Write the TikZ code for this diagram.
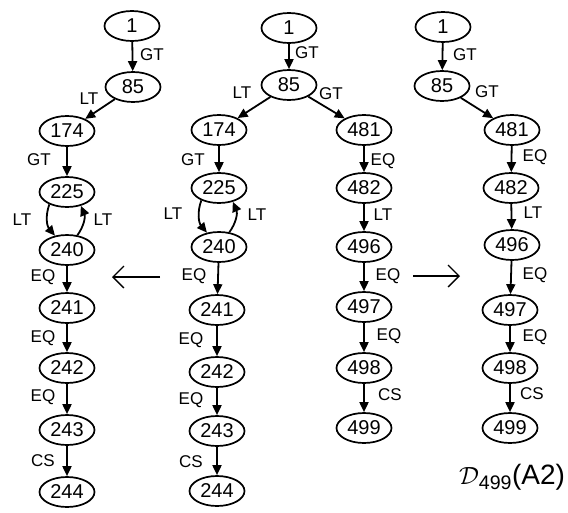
\documentclass[tikz,border=0pt]{standalone}
\usepackage{fontspec}
\setmainfont{Liberation Sans}
\usetikzlibrary{shapes.geometric,arrows.meta}
\begin{document}
\begin{tikzpicture}[x=1pt,y=-1pt,
  st/.style={ellipse,draw,line width=1.7pt,minimum width=55pt,minimum height=30pt,inner sep=0pt,font=\fontsize{20}{20}\selectfont},
  arr/.style={line width=1.8pt,-{Triangle[length=10pt,width=9pt]}},
  lbl/.style={font=\fontsize{17}{17}\selectfont,inner sep=0pt},
  big/.style={line width=1.3pt,-{Straight Barb[length=11pt,width=22pt]}}]
\useasboundingbox (0,0) rectangle (568,512);

% ---------- left tree ----------
\node[st] (L1)   at (132,26)  {1};
\node[st] (L85)  at (133,87)  {85};
\node[st] (L174) at (67,131)  {174};
\node[st] (L225) at (67,192)  {225};
\node[st] (L240) at (67,250)  {240};
\node[st] (L241) at (67,308)  {241};
\node[st] (L242) at (67,368)  {242};
\node[st] (L243) at (67,430)  {243};
\node[st] (L244) at (67,492)  {244};
\draw[arr] (L1) -- (L85);
\draw[arr] (L85) -- (L174);
\draw[arr] (L174) -- (L225);
\draw[arr] (L225.215) to[bend right=30] (L240.130);
\draw[arr] (L240.55) to[bend right=30] (L225.315);
\draw[arr] (L240) -- (L241);
\draw[arr] (L241) -- (L242);
\draw[arr] (L242) -- (L243);
\draw[arr] (L243) -- (L244);
\node[lbl] (lg1) at (152,55)  {GT};
\node[lbl] (lg2) at (89,99)   {LT};
\node[lbl] (lg3) at (39,160)  {GT};
\node[lbl] (lg4) at (22,220)  {LT};
\node[lbl] (lg5) at (103,220) {LT};
\node[lbl] (lg6) at (43,277)  {EQ};
\node[lbl] (lg7) at (43,338)  {EQ};
\node[lbl] (lg8) at (43,397)  {EQ};
\node[lbl] (lg9) at (43,461)  {CS};

% ---------- middle tree ----------
\node[st] (M1)   at (289,28)  {1};
\node[st] (M85)  at (289,85)  {85};
\node[st] (M174) at (219,130) {174};
\node[st] (M481) at (364,130) {481};
\node[st] (M225) at (219,188) {225};
\node[st] (M482) at (364,188) {482};
\node[st] (M240) at (219,247) {240};
\node[st] (M496) at (364,247) {496};
\node[st] (M241) at (217,310) {241};
\node[st] (M242) at (217,372) {242};
\node[st] (M243) at (217,431) {243};
\node[st] (M244) at (217,491) {244};
\node[st] (M497) at (364,307) {497};
\node[st] (M498) at (364,368) {498};
\node[st] (M499) at (364,428) {499};
\draw[arr] (M1) -- (M85);
\draw[arr] (M85) -- (M174);
\draw[arr] (M85) -- (M481);
\draw[arr] (M174) -- (M225);
\draw[arr] (M225.215) to[bend right=30] (M240.130);
\draw[arr] (M240.55) to[bend right=30] (M225.315);
\draw[arr] (M240) -- (M241);
\draw[arr] (M241) -- (M242);
\draw[arr] (M242) -- (M243);
\draw[arr] (M243) -- (M244);
\draw[arr] (M481) -- (M482);
\draw[arr] (M482) -- (M496);
\draw[arr] (M496) -- (M497);
\draw[arr] (M497) -- (M498);
\draw[arr] (M498) -- (M499);
\node[lbl] (mg1)  at (307,53)  {GT};
\node[lbl] (mg2)  at (242,93)  {LT};
\node[lbl] (mg3)  at (331,94)  {GT};
\node[lbl] (mg4)  at (193,160) {GT};
\node[lbl] (mg5)  at (173,214) {LT};
\node[lbl] (mg6)  at (257,215) {LT};
\node[lbl] (mg7)  at (194,276) {EQ};
\node[lbl] (mg8)  at (191,340) {EQ};
\node[lbl] (mg9)  at (191,400) {EQ};
\node[lbl] (mg10) at (191,462) {CS};
\node[lbl] (mg11) at (383,161) {EQ};
\node[lbl] (mg12) at (383,215) {LT};
\node[lbl] (mg13) at (388,276) {EQ};
\node[lbl] (mg14) at (389,336) {EQ};
\node[lbl] (mg15) at (390,395) {CS};

% ---------- right tree ----------
\node[st] (R1)   at (443,27)  {1};
\node[st] (R85)  at (442,86)  {85};
\node[st] (R481) at (512,130) {481};
\node[st] (R482) at (511,188) {482};
\node[st] (R496) at (512,245) {496};
\node[st] (R497) at (510,310) {497};
\node[st] (R498) at (510,368) {498};
\node[st] (R499) at (510,428) {499};
\draw[arr] (R1) -- (R85);
\draw[arr] (R85) -- (R481);
\draw[arr] (R481) -- (R482);
\draw[arr] (R482) -- (R496);
\draw[arr] (R496) -- (R497);
\draw[arr] (R497) -- (R498);
\draw[arr] (R498) -- (R499);
\node[lbl] (rg1) at (465,55)  {GT};
\node[lbl] (rg2) at (487,92)  {GT};
\node[lbl] (rg3) at (535,157) {EQ};
\node[lbl] (rg4) at (533,213) {LT};
\node[lbl] (rg5) at (535,275) {EQ};
\node[lbl] (rg6) at (535,337) {EQ};
\node[lbl] (rg7) at (532,394) {CS};

% ---------- side arrows ----------
\coordinate (la1) at (160,277);
\coordinate (la2) at (112,277);
\draw[big] (la1) -- (la2);
\coordinate (ra1) at (413,276);
\coordinate (ra2) at (460,276);
\draw[big] (ra1) -- (ra2);

% ---------- caption ----------
\node[font=\fontsize{28}{28}\selectfont,inner sep=0pt] (cap) at (512,477) {$\mathcal{D}$\textsubscript{499}(A2)};
\end{tikzpicture}
\end{document}
